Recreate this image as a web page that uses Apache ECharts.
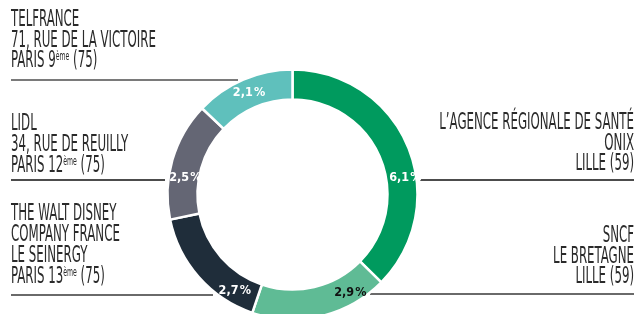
<!DOCTYPE html>
<html>
<head>
<meta charset="utf-8">
<script src="https://cdn.jsdelivr.net/npm/echarts@6/dist/echarts.min.js"></script>
<style>
  html, body { margin: 0; padding: 0; background: #fff; }
  #chart { width: 637px; height: 314px; }
</style>
</head>
<body>
<div id="chart"></div>
<script>
// shares (%) per site, clockwise from the top
var names = ['ARS / ONIX', 'SNCF / LE BRETAGNE', 'THE WALT DISNEY COMPANY FRANCE', 'LIDL', 'TELFRANCE'];
var shares = [6.1, 2.9, 2.7, 2.5, 2.1];
var colors = ['#009a5e', '#5fbb95', '#1f2d3a', '#646674', '#5fc0bc'];
var labelColors = ['#fff', '#111', '#fff', '#fff', '#fff'];
// address blocks next to the ring
var addrTelfrance = 'TELFRANCE\n71, RUE DE LA VICTOIRE\nPARIS 9{sup|ème} (75)';
var addrLidl = 'LIDL\n34, RUE DE REUILLY\nPARIS 12{sup|ème} (75)';
var addrDisney = 'THE WALT DISNEY\nCOMPANY FRANCE\nLE SEINERGY\nPARIS 13{sup|ème} (75)';
var addrArs = 'L\u2019AGENCE RÉGIONALE DE SANTÉ\nONIX\nLILLE (59)';
var addrSncf = 'SNCF\nLE BRETAGNE\nLILLE (59)';

// nudges of the % labels away from slice middles
var labelShift = [[8.5, 26.5], [32, -11.5], [27, 22], [1.5, 14], [1, 2]];

var chart = echarts.init(document.getElementById('chart'));

var FONT = '"Liberation Sans Narrow", "DejaVu Sans Condensed", sans-serif';
var SX = 0.57;

function block(txt, x, y, align) {
	return {
		type: 'text',
		x: x,
		y: y,
		scaleX: SX,
		silent: true,
		style: {
			text: txt,
			font: '23px ' + FONT,
			fill: '#2a2a2a',
			align: align,
			verticalAlign: 'top',
			lineHeight: 20.8,
			rich: {
				sup: { fontSize: 12, fontFamily: FONT, fill: '#2a2a2a', verticalAlign: 'top', lineHeight: 20.8, padding: [0, 0, 8, 0] }
			}
		}
	};
}
function rule(x1, x2, y, color, w) {
	return {
		type: 'line',
		silent: true,
		shape: { x1: x1, y1: y, x2: x2, y2: y },
		style: { stroke: color, lineWidth: w }
	};
}

var option = {
	animation: false,
	backgroundColor: '#fff',
	graphic: [
		rule(11, 238, 80, '#7a7a7a', 2),
		rule(11, 165, 180, '#111', 1.5),
		rule(11, 213, 295, '#6a6a6a', 2),
		rule(420, 634, 180, '#111', 1.5),
		rule(370, 634, 294, '#6a6a6a', 2),
		block(addrTelfrance, 11, 9.5, 'left'),
		block(addrLidl, 11, 114, 'left'),
		block(addrDisney, 11, 204, 'left'),
		block(addrArs, 634, 112.5, 'right'),
		block(addrSncf, 634, 225.5, 'right')
	],
	series: [{
		type: 'pie',
		center: [292.5, 194.5],
		radius: [95, 125],
		startAngle: 90,
		clockwise: true,
		silent: true,
		itemStyle: { borderColor: '#fff', borderWidth: 2.5 },
		label: {
			show: true,
			position: 'inside',
			fontFamily: FONT,
			fontWeight: 'bold',
			fontSize: 12.5,
			formatter: function (p) {
				return p.value.toFixed(1).replace('.', ',') + '\u200a%';
			}
		},
		labelLine: { show: false },
		labelLayout: function (p) {
			var s = labelShift[p.dataIndex];
			return { dx: s[0], dy: s[1] };
		},
		data: shares.map(function (v, i) {
			return {
				name: names[i],
				value: v,
				itemStyle: { color: colors[i] },
				label: { color: labelColors[i] }
			};
		})
	}]
};
chart.setOption(option);
</script>
</body>
</html>
